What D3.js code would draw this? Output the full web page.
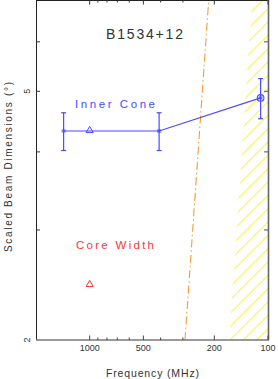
<!DOCTYPE html>
<html>
<head>
<meta charset="utf-8">
<script src="https://cdn.jsdelivr.net/npm/d3@7"></script>
<style>
  body { margin: 0; background: #fff; }
  svg { display: block; font-family: "Liberation Sans", Arial, sans-serif; }
</style>
</head>
<body>
<svg id="chart"></svg>
<script>
"use strict";

// inner cone widths (scaled), with errors
var innerFreq = [1400, 408, 110];
var innerWidth = [4.32, 4.32, 4.88];
var innerErr = [0.30, 0.30, 0.36];

// triangle points
var triFreq = [1000];
var triInner = [4.32];
var coreFreq = [1000];
var coreWidth = [2.45];

// dash-dot line and hatched limit
var scatFreq = [292, 215];
var scatWidth = [2, 7];
var limitFreq = [165, 123];
var limitWidth = [2, 7];

var xMajor = [1000, 500, 200, 100];
var xMinor = [900, 800, 700, 600, 400, 300];
var yTicks = [6, 5, 4, 3];
var yLabels = [5, 2];

var W = 278, H = 379;
var pL = 36, pR = 268, pT = 0, pB = 340;

var svg = d3.select('#chart').attr('width', W).attr('height', H);

var x = d3.scaleLog().domain([2000, 100]).range([pL, pR]);
var y = d3.scaleLog().domain([2, 7]).range([pB, pT]);

var defs = svg.append('defs');
defs.append('clipPath').attr('id', 'plotclip')
    .append('rect').attr('x', pL).attr('y', pT)
    .attr('width', pR - pL).attr('height', pB - pT);

var pat = defs.append('pattern')
    .attr('id', 'hatch')
    .attr('patternUnits', 'userSpaceOnUse')
    .attr('width', 9.43).attr('height', 9.43)
    .attr('patternTransform', 'rotate(45)');
pat.append('line')
    .attr('x1', 7).attr('x2', 7).attr('y1', 0).attr('y2', 9.43)
    .attr('stroke', '#f6f13a').attr('stroke-width', 0.9);

var plot = svg.append('g').attr('clip-path', 'url(#plotclip)');

// hatched region
var region = limitFreq.map((f, i) => [x(f), y(limitWidth[i])]);
region.push([x(100), y(7)], [x(100), y(2)]);
plot.append('path')
    .attr('d', d3.line()(region) + 'Z')
    .attr('fill', 'url(#hatch)');

// dash-dot line
plot.append('path')
    .attr('d', d3.line()(scatFreq.map((f, i) => [x(f), y(scatWidth[i])])))
    .attr('fill', 'none')
    .attr('stroke', '#f39a3c')
    .attr('stroke-width', 1.1)
    .attr('stroke-dasharray', '8,3,1.5,3');

// inner cone line
var blue = '#4b4bff';
plot.append('path')
    .attr('d', d3.line()(innerFreq.map((f, i) => [x(f), y(innerWidth[i])])))
    .attr('fill', 'none')
    .attr('stroke', blue)
    .attr('stroke-width', 1.2);

// error bars
innerFreq.forEach((f, i) => {
    var cx = x(f);
    var y1 = y(innerWidth[i] + innerErr[i]);
    var y2 = y(innerWidth[i] - innerErr[i]);
    var g = plot.append('g').attr('stroke', blue).attr('stroke-width', 1.2);
    g.append('line').attr('x1', cx).attr('x2', cx).attr('y1', y1).attr('y2', y2);
    g.append('line').attr('x1', cx - 2.5).attr('x2', cx + 2.5).attr('y1', y1).attr('y2', y1);
    g.append('line').attr('x1', cx - 2.5).attr('x2', cx + 2.5).attr('y1', y2).attr('y2', y2);
    // asterisk marker
    var s = 2.2;
    var a = plot.append('g').attr('stroke', blue).attr('stroke-width', 1)
        .attr('transform', `translate(${cx},${y(innerWidth[i])})`);
    a.append('line').attr('x1', -s).attr('x2', s);
    a.append('line').attr('y1', -s).attr('y2', s);
    a.append('line').attr('x1', -s * 0.7).attr('x2', s * 0.7).attr('y1', -s * 0.7).attr('y2', s * 0.7);
    a.append('line').attr('x1', -s * 0.7).attr('x2', s * 0.7).attr('y1', s * 0.7).attr('y2', -s * 0.7);
});

// circle on last point
plot.append('circle')
    .attr('cx', x(innerFreq[2])).attr('cy', y(innerWidth[2]))
    .attr('r', 3.3)
    .attr('fill', 'none').attr('stroke', blue).attr('stroke-width', 1.1);

var tri = d3.symbol().type(d3.symbolTriangle).size(22);
plot.selectAll('.tri-inner').data(triFreq).enter()
    .append('path')
    .attr('class', 'tri-inner')
    .attr('d', tri)
    .attr('transform', (d, i) => `translate(${x(d)},${y(triInner[i]) - 0.5})`)
    .attr('fill', 'none').attr('stroke', blue).attr('stroke-width', 1);

plot.selectAll('.tri-core').data(coreFreq).enter()
    .append('path')
    .attr('class', 'tri-core')
    .attr('d', tri)
    .attr('transform', (d, i) => `translate(${x(d)},${y(coreWidth[i]) - 0.5})`)
    .attr('fill', 'none').attr('stroke', '#ff3333').attr('stroke-width', 1);

// frame
svg.append('line').attr('x1', pL).attr('x2', pR).attr('y1', pT + 0.5).attr('y2', pT + 0.5)
    .attr('stroke', '#222').attr('stroke-width', 1);
svg.append('line').attr('x1', pL + 0.5).attr('x2', pL + 0.5).attr('y1', pT).attr('y2', pB)
    .attr('stroke', '#222').attr('stroke-width', 1);
svg.append('line').attr('x1', pL).attr('x2', pR + 1).attr('y1', pB).attr('y2', pB)
    .attr('stroke', '#777').attr('stroke-width', 1.6);
svg.append('line').attr('x1', pR + 0.5).attr('x2', pR + 0.5).attr('y1', pT).attr('y2', pB)
    .attr('stroke', '#666').attr('stroke-width', 1.6);

// x ticks (bottom and top, inward)
var ticks = xMajor.map(d => ({v: d, len: 4.5})).concat(xMinor.map(d => ({v: d, len: 2.5})));
ticks.forEach(t => {
    svg.append('line').attr('x1', x(t.v)).attr('x2', x(t.v))
        .attr('y1', pB).attr('y2', pB - t.len)
        .attr('stroke', '#444').attr('stroke-width', 1);
    svg.append('line').attr('x1', x(t.v)).attr('x2', x(t.v))
        .attr('y1', pT).attr('y2', pT + t.len)
        .attr('stroke', '#333').attr('stroke-width', 1);
});

svg.selectAll('.xlab').data(xMajor).enter()
    .append('text')
    .attr('class', 'xlab')
    .attr('x', d => x(d))
    .attr('y', 351)
    .attr('text-anchor', 'middle')
    .attr('font-size', 9)
    .attr('fill', '#333')
    .text(d => d);

// y ticks (left and right, inward)
yTicks.forEach(v => {
    svg.append('line').attr('x1', pL).attr('x2', pL + 4)
        .attr('y1', y(v)).attr('y2', y(v))
        .attr('stroke', '#333').attr('stroke-width', 1);
    svg.append('line').attr('x1', pR).attr('x2', pR - 4)
        .attr('y1', y(v)).attr('y2', y(v))
        .attr('stroke', '#555').attr('stroke-width', 1);
});

svg.selectAll('.ylab').data(yLabels).enter()
    .append('text')
    .attr('class', 'ylab')
    .attr('transform', d => `translate(30,${y(d)}) rotate(-90)`)
    .attr('text-anchor', 'middle')
    .attr('font-size', 9)
    .attr('fill', '#333')
    .text(d => d);

// axis titles
svg.append('text')
    .attr('x', 152.5).attr('y', 377)
    .attr('text-anchor', 'middle')
    .attr('font-size', 10.5)
    .attr('fill', '#333')
    .attr('textLength', 93)
    .text('Frequency (MHz)');

svg.append('text')
    .attr('transform', 'translate(12,167) rotate(-90)')
    .attr('text-anchor', 'middle')
    .attr('font-size', 10)
    .attr('fill', '#333')
    .attr('textLength', 170)
    .text('Scaled Beam Dimensions (°)');

// labels in plot
svg.append('text')
    .attr('x', 106).attr('y', 39)
    .attr('font-size', 14)
    .attr('fill', '#333')
    .attr('textLength', 77)
    .text('B1534+12');

svg.append('text')
    .attr('x', 75).attr('y', 108)
    .attr('font-size', 11.5)
    .attr('fill', '#4b4bff')
    .attr('textLength', 80)
    .text('Inner Cone');

svg.append('text')
    .attr('x', 76).attr('y', 249)
    .attr('font-size', 11.5)
    .attr('fill', '#ff3333')
    .attr('textLength', 78)
    .text('Core Width');
</script>
</body>
</html>
